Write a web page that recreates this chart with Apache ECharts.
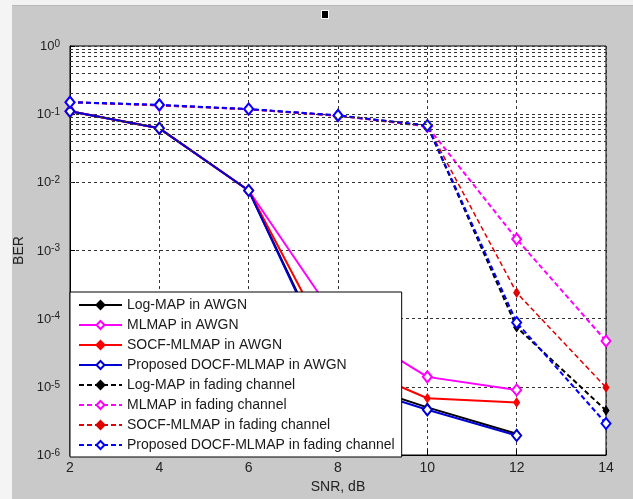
<!DOCTYPE html>
<html>
<head>
<meta charset="utf-8">
<script src="https://cdn.jsdelivr.net/npm/echarts@6/dist/echarts.min.js"></script>
<style>
  html, body { margin: 0; padding: 0; background: #c9c9c9; }
  #chart { width: 633px; height: 499px; }
</style>
</head>
<body>
<div id="chart"></div>
<script>
// SNR points, dB
const snr = [2, 4, 6, 8, 10, 12, 14];

// BER in AWGN (no point at 14 dB)
const logmapAwgn = [0.11, 0.062, 0.0076, 1.35e-5, 5.0e-6, 2.05e-6];
const mlmapAwgn  = [0.11, 0.062, 0.0076, 9.0e-5, 1.4e-5, 9.0e-6];
const socfAwgn   = [0.11, 0.062, 0.0076, 2.5e-5, 6.8e-6, 5.9e-6];
const docfAwgn   = [0.11, 0.062, 0.0076, 1.2e-5, 4.6e-6, 1.93e-6];

// BER in fading channel
const logmapFade = [0.15, 0.135, 0.118, 0.095, 0.068, 7.5e-5, 4.5e-6];
const mlmapFade  = [0.15, 0.135, 0.118, 0.095, 0.066, 1.47e-3, 4.7e-5];
const socfFade   = [0.15, 0.135, 0.118, 0.095, 0.067, 2.4e-4, 9.8e-6];
const docfFade   = [0.15, 0.137, 0.119, 0.096, 0.068, 8.8e-5, 2.9e-6];

const legendNames = [
    'Log-MAP in AWGN',
    'MLMAP in AWGN',
    'SOCF-MLMAP in AWGN',
    'Proposed DOCF-MLMAP in AWGN',
    'Log-MAP in fading channel',
    'MLMAP in fading channel',
    'SOCF-MLMAP in fading channel',
    'Proposed DOCF-MLMAP in fading channel'
];

// minor grid lines 2..9 x 10^k
const minorLevels = [];
for (let k = -6; k < 0; k++) {
    for (let m = 2; m <= 9; m++) {
        minorLevels.push(parseFloat((m * Math.pow(10, k)).toPrecision(3)));
    }
}

const font = 'Liberation Sans, Arial, sans-serif';
const chart = echarts.init(document.getElementById('chart'));

const pairs = arr => arr.map((v, i) => [snr[i], v]);

function makeSeries(name, values, color, dashed, hollow, width) {
    return {
        name: name,
        type: 'line',
        data: pairs(values),
        z: 3,
        symbol: hollow ? 'emptyDiamond' : 'diamond',
        symbolSize: hollow ? [9, 11] : [6, 9],
        showAllSymbol: true,
        itemStyle: {color: color, borderColor: color, borderWidth: hollow ? 2 : 1},
        lineStyle: {color: color, width: width, type: dashed ? [5, 3] : 'solid'}
    };
}

const options = {
    animation: false,
    backgroundColor: '#c9c9c9',
    grid: {
        left: 70, right: 27, top: 46, bottom: 40,
        show: true,
        backgroundColor: '#ffffff',
        borderColor: '#000',
        borderWidth: 1
    },
    legend: {
        data: legendNames,
        orient: 'vertical',
        left: 70,
        top: 292,
        itemWidth: 43,
        itemHeight: 10,
        itemGap: 6,
        padding: [6, 7, 5, 8],
        backgroundColor: '#ffffff',
        borderColor: '#000',
        borderWidth: 1,
        textStyle: {fontFamily: font, fontSize: 14, lineHeight: 14, color: '#1a1a1a'}
    },
    xAxis: {
        type: 'value',
        min: 2,
        max: 14,
        interval: 2,
        name: 'SNR, dB',
        nameLocation: 'middle',
        nameGap: 25,
        nameTextStyle: {fontFamily: font, fontSize: 14, color: '#222'},
        axisLine: {show: true, lineStyle: {color: '#000'}},
        axisTick: {inside: true, length: 5, lineStyle: {color: '#000'}},
        axisLabel: {fontFamily: font, fontSize: 14, color: '#222', margin: 6},
        splitLine: {show: true, lineStyle: {color: '#333', type: [3, 3], width: 1}}
    },
    yAxis: {
        type: 'log',
        logBase: 10,
        min: 1e-6,
        max: 1,
        name: 'BER',
        nameLocation: 'middle',
        nameGap: 40,
        nameTextStyle: {fontFamily: font, fontSize: 14, color: '#222'},
        axisLine: {show: true, lineStyle: {color: '#000'}},
        axisTick: {inside: true, length: 5, lineStyle: {color: '#000'}},
        axisLabel: {
            margin: 10,
            formatter: v => '{b|10}{s|' + Math.round(Math.log10(v)) + '}',
            rich: {
                b: {fontFamily: font, fontSize: 13, color: '#222', lineHeight: 14, padding: [7, 0, 0, 0], verticalAlign: 'bottom'},
                s: {fontFamily: font, fontSize: 10, color: '#222', lineHeight: 10, verticalAlign: 'top'}
            }
        },
        splitLine: {show: true, lineStyle: {color: '#333', type: [3, 3], width: 1}}
    },
    graphic: [
        {type: 'rect', shape: {x: 0, y: 0, width: 633, height: 5}, style: {fill: '#f2f2f2'}, silent: true},
        {type: 'rect', shape: {x: 0, y: 5, width: 633, height: 1}, style: {fill: '#b8b8b8'}, silent: true},
        {type: 'rect', shape: {x: 0, y: 0, width: 12, height: 499}, style: {fill: '#f4f4f4'}, silent: true},
        {type: 'rect', shape: {x: 321, y: 10, width: 8, height: 9}, style: {fill: '#ffffff'}, silent: true},
        {type: 'rect', shape: {x: 322, y: 11, width: 6, height: 7}, style: {fill: '#000000'}, silent: true}
    ],
    series: [
        {
            type: 'line',
            data: [],
            z: 1,
            silent: true,
            markLine: {
                silent: true,
                symbol: 'none',
                label: {show: false},
                lineStyle: {color: '#333', type: [3, 3], width: 1},
                data: minorLevels.map(v => ({yAxis: v}))
            }
        },
        makeSeries(legendNames[0], logmapAwgn, '#000000', false, false, 2),
        makeSeries(legendNames[1], mlmapAwgn, '#ff00ff', false, true, 2),
        makeSeries(legendNames[2], socfAwgn, '#ff0000', false, false, 2),
        makeSeries(legendNames[3], docfAwgn, '#0000d0', false, true, 2),
        makeSeries(legendNames[4], logmapFade, '#000000', true, false, 2),
        makeSeries(legendNames[5], mlmapFade, '#ff00ff', true, true, 2),
        makeSeries(legendNames[6], socfFade, '#e00000', true, false, 1.5),
        makeSeries(legendNames[7], docfFade, '#0000ff', true, true, 2)
    ]
};

chart.setOption(options);
</script>
</body>
</html>
